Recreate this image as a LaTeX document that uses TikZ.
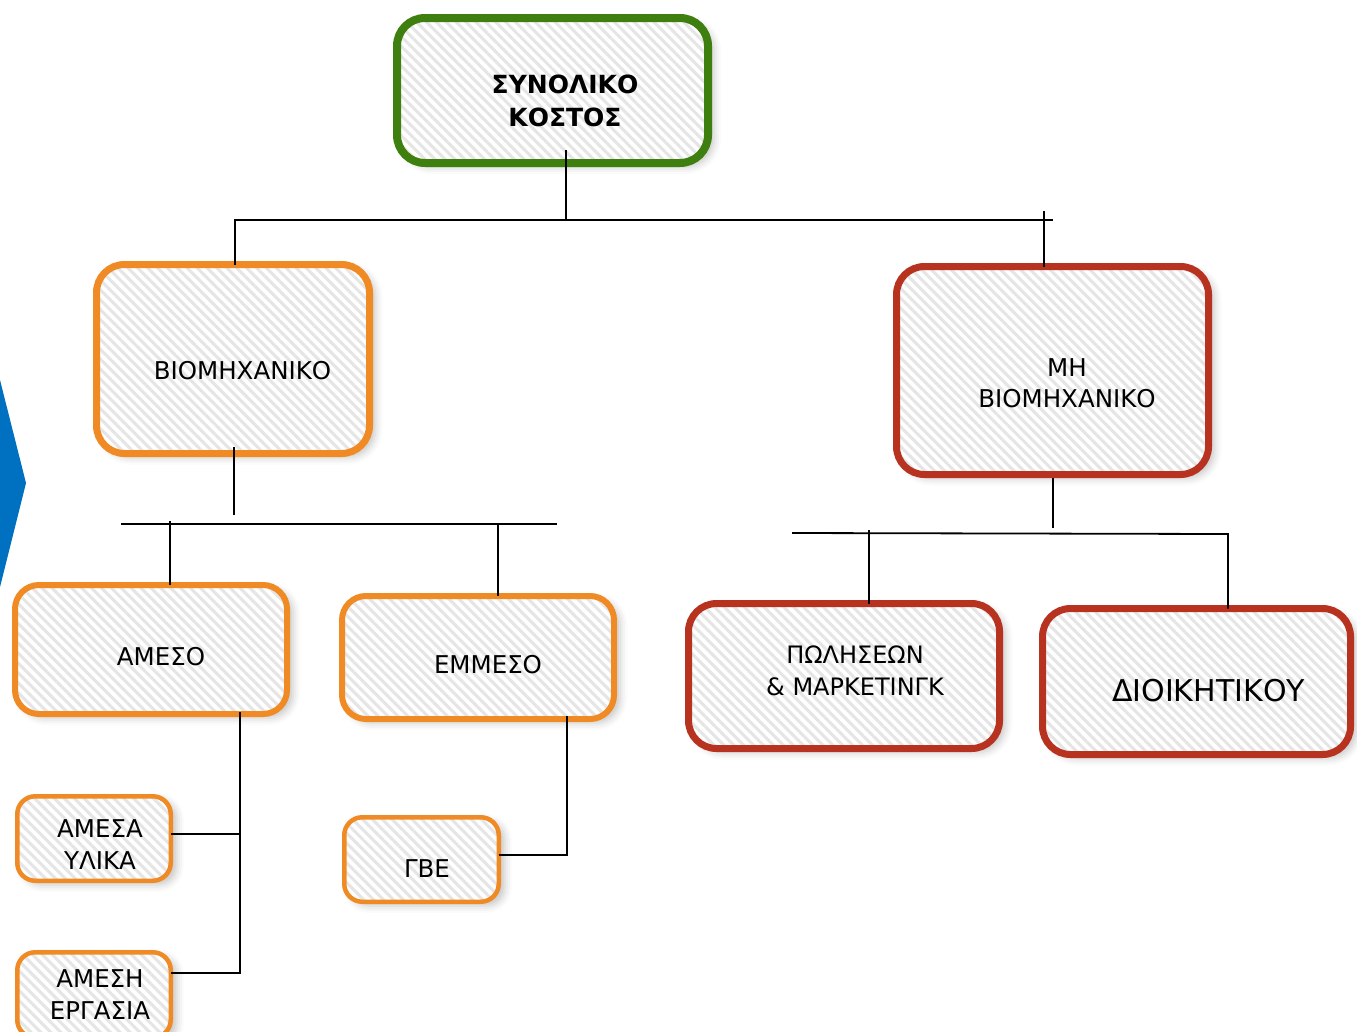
\documentclass[tikz,border=0pt]{standalone}
\usepackage{fontspec}
\setmainfont{DejaVu Sans}
\usetikzlibrary{patterns.meta,shadows.blur}
\definecolor{orgc}{HTML}{F08A24}
\definecolor{redc}{HTML}{B83220}
\definecolor{grnc}{HTML}{3F7F10}
\definecolor{bluec}{HTML}{0070C0}
\tikzset{
  softshadow/.style={blur shadow={shadow xshift=6pt, shadow yshift=-4pt, shadow blur radius=7pt, shadow opacity=22}},
  stripes/.style={preaction={fill=white}, pattern={Lines[angle=-45,distance=7pt,line width=3pt]}, pattern color=gray!20},
  bigbox/.style={softshadow, stripes, rounded corners=28pt, inner sep=0pt, outer sep=0pt},
  smallbox/.style={softshadow, stripes, rounded corners=18pt, line width=4.5pt, inner sep=0pt, outer sep=0pt, draw=orgc},
  lbl/.style={align=center, inner sep=0pt, font=\fontsize{24.5}{31.5}\selectfont},
  conn/.style={line width=1.8pt, black},
}
\begin{document}
\begin{tikzpicture}[x=1pt,y=-1pt]
\useasboundingbox (0,0) rectangle (1357,1031);
\clip (0,0) rectangle (1357,1031);
% blue chevron
\fill[bluec] (0,380) -- (26,483) -- (0,587) -- cycle;

% boxes
\node[bigbox, draw=grnc, line width=8pt, minimum width=311pt, minimum height=145pt] (top) at (552.5,90.5) {};
\node[bigbox, draw=orgc, line width=7pt, minimum width=273pt, minimum height=189pt] (bio) at (233,359) {};
\node[bigbox, draw=redc, line width=7pt, minimum width=312pt, minimum height=208pt] (mh) at (1052.5,370.5) {};
\node[bigbox, draw=orgc, line width=6pt, rounded corners=24pt, minimum width=272pt, minimum height=129pt] (ameso) at (151,649.5) {};
\node[bigbox, draw=orgc, line width=6pt, rounded corners=24pt, minimum width=272pt, minimum height=123pt] (emmeso) at (478,657.5) {};
\node[bigbox, draw=redc, line width=7pt, minimum width=311pt, minimum height=145pt] (pol) at (844,676) {};
\node[bigbox, draw=redc, line width=7pt, minimum width=308pt, minimum height=146pt] (dio) at (1196.5,681.5) {};
\node[smallbox, minimum width=153.5pt, minimum height=84.5pt] (yl) at (94,838.5) {};
\node[smallbox, minimum width=153.5pt, minimum height=85.5pt] (erg) at (94,995) {};
\node[smallbox, minimum width=154.5pt, minimum height=84.5pt] (gbe) at (421.5,859.5) {};

% labels
\node[lbl, font=\fontsize{25}{33}\selectfont\bfseries] (tTop) at (565,101) {ΣΥΝΟΛΙΚΟ\\ΚΟΣΤΟΣ};
\node[lbl] (tBio) at (242.5,370.5) {ΒΙΟΜΗΧΑΝΙΚΟ};
\node[lbl] (tMh) at (1067,383) {ΜΗ\\ΒΙΟΜΗΧΑΝΙΚΟ};
\node[lbl] (tAmeso) at (161,657) {ΑΜΕΣΟ};
\node[lbl] (tEmmeso) at (488,665) {ΕΜΜΕΣΟ};
\node[lbl, font=\fontsize{24}{31.5}\selectfont] (tPol) at (855,671) {ΠΩΛΗΣΕΩΝ\\\& ΜΑΡΚΕΤΙΝΓΚ};
\node[lbl, font=\fontsize{30}{36}\selectfont] (tDio) at (1208.5,691) {ΔΙΟΙΚΗΤΙΚΟΥ};
\node[lbl] (tYl) at (100,844.5) {ΑΜΕΣΑ\\ΥΛΙΚΑ};
\node[lbl] (tErg) at (100,994.5) {ΑΜΕΣΗ\\ΕΡΓΑΣΙΑ};
\node[lbl] (tGbe) at (427,868.5) {ΓΒΕ};

% connector coordinates
\coordinate (a0) at (566,150);
\coordinate (a1) at (566,220);
\coordinate (bL) at (234,220);
\coordinate (bR) at (1053,220);
\coordinate (l1) at (235,220);
\coordinate (r1) at (1044,211);
\coordinate (b0) at (234,447);
\coordinate (b1) at (234,515);
\coordinate (cL) at (121,524);
\coordinate (cR) at (557,524);
\coordinate (d1) at (170,521);
\coordinate (d2) at (498,524);
\coordinate (m0) at (1053,478);
\coordinate (m1) at (1053,528);
\coordinate (eL) at (792,533);
\coordinate (eR) at (1228,534);
\coordinate (f1) at (869,530);
\coordinate (g0) at (240,712);
\coordinate (g1) at (240,834);
\coordinate (g2) at (240,973);
\coordinate (h0) at (567,716);
\coordinate (h1) at (567,855);

\draw[conn] (a0) -- (a1);
\draw[conn] (bL) -- (bR);
\draw[conn] (l1) -- (l1 |- bio.north);
\draw[conn] (r1) -- (r1 |- mh.north);
\draw[conn] (b0) -- (b1);
\draw[conn] (cL) -- (cR);
\draw[conn] (d1) -- (d1 |- ameso.north);
\draw[conn] (d2) -- (d2 |- emmeso.north);
\draw[conn] (m0) -- (m1);
\draw[conn] (eL) -- (eR) -- (eR |- dio.north);
\draw[conn] (f1) -- (f1 |- pol.north);
\draw[conn] (g0) -- (g2) -- (erg.east |- g2);
\draw[conn] (yl.east |- g1) -- (g1);
\draw[conn] (h0) -- (h1) -- (gbe.east |- h1);
\end{tikzpicture}
\end{document}
